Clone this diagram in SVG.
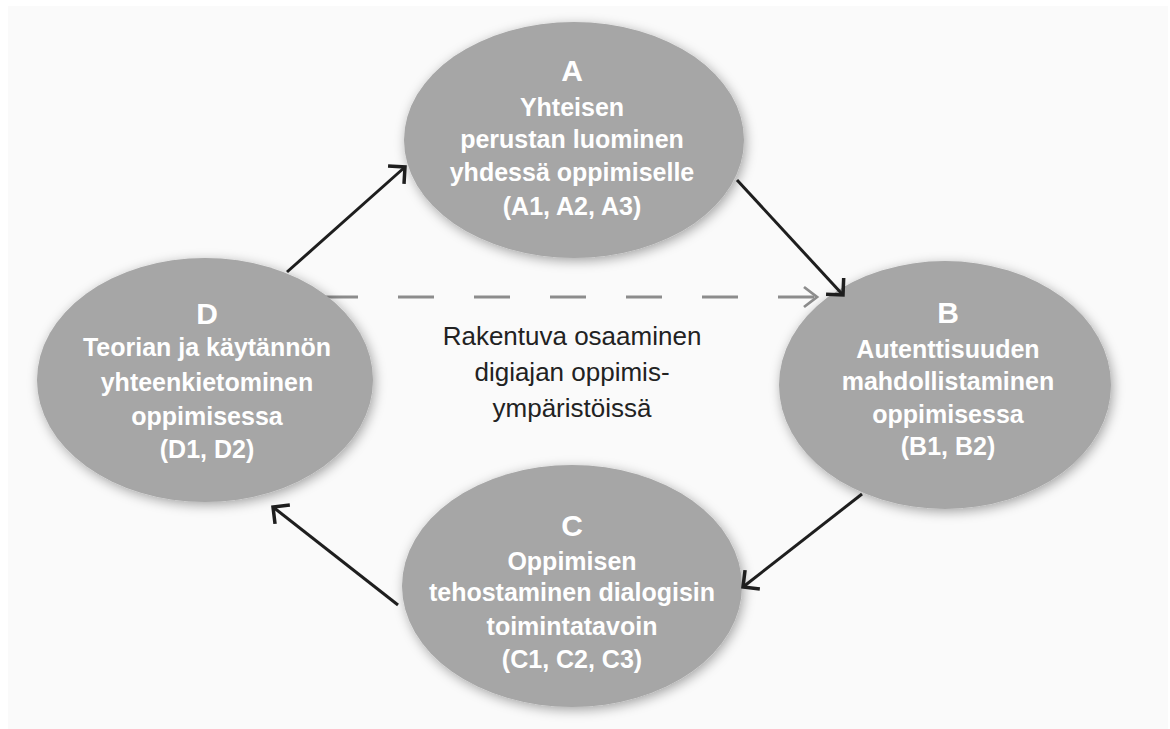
<svg xmlns="http://www.w3.org/2000/svg" width="1170" height="729" viewBox="0 0 1170 729">
  <defs>
    <filter id="shadow" x="-20%" y="-20%" width="140%" height="140%">
      <feDropShadow dx="2" dy="3" stdDeviation="6" flood-color="#000" flood-opacity="0.35"/>
    </filter>
    <marker id="head" markerUnits="userSpaceOnUse" viewBox="-16 -16 20 32" refX="0" refY="0" markerWidth="20" markerHeight="32" orient="auto" overflow="visible">
      <path d="M-12,-12 L0,0 L-12,12" fill="none" stroke="#1e1e1e" stroke-width="3.5" stroke-linejoin="miter"/>
    </marker>
    <marker id="headDash" markerUnits="userSpaceOnUse" viewBox="-16 -16 20 32" refX="0" refY="0" markerWidth="20" markerHeight="32" orient="auto" overflow="visible">
      <path d="M-13,-10 L0,0 L-13,10" fill="none" stroke="#8c8c8c" stroke-width="2.8"/>
    </marker>
  </defs>
  <style>
    .node { fill: #a6a6a6; filter: url(#shadow); }
    .letter { font-family: "Liberation Sans", Arial, sans-serif; font-weight: 900; font-size: 30px; fill: #ffffff; text-anchor: middle; }
    .label { font-family: "Liberation Sans", Arial, sans-serif; font-weight: bold; font-size: 25px; fill: #ffffff; text-anchor: middle; }
    .center { font-family: "Liberation Sans", Arial, sans-serif; font-size: 26px; fill: #222222; text-anchor: middle; }
    .arrow { stroke: #1e1e1e; stroke-width: 3; fill: none; marker-end: url(#head); }
    .dashed { stroke: #8c8c8c; stroke-width: 3; fill: none; stroke-dasharray: 36 40; marker-end: url(#headDash); }
  </style>
  <rect x="0" y="0" width="1170" height="729" fill="#ffffff"/>
  <rect x="8" y="6" width="1160" height="723" fill="#fafafa"/>

  <g id="connectors">
    <line class="dashed" x1="322" y1="297" x2="817" y2="297"/>
  </g>

  <g id="node-A">
    <ellipse class="node" cx="574" cy="140" rx="170" ry="118"/>
    <text class="letter" x="572" y="81">A</text>
    <text class="label" x="572" y="116">Yhteisen</text>
    <text class="label" x="572" y="148">perustan luominen</text>
    <text class="label" x="572" y="181">yhdessä oppimiselle</text>
    <text class="label" x="572" y="215">(A1, A2, A3)</text>
  </g>

  <g id="node-B">
    <ellipse class="node" cx="945" cy="385" rx="166" ry="124"/>
    <text class="letter" x="948" y="323">B</text>
    <text class="label" x="948" y="358">Autenttisuuden</text>
    <text class="label" x="948" y="390">mahdollistaminen</text>
    <text class="label" x="948" y="423">oppimisessa</text>
    <text class="label" x="948" y="455">(B1, B2)</text>
  </g>

  <g id="node-C">
    <ellipse class="node" cx="572" cy="586" rx="170" ry="121"/>
    <text class="letter" x="572" y="536">C</text>
    <text class="label" x="572" y="570">Oppimisen</text>
    <text class="label" x="572" y="601">tehostaminen dialogisin</text>
    <text class="label" x="572" y="635">toimintatavoin</text>
    <text class="label" x="572" y="668">(C1, C2, C3)</text>
  </g>

  <g id="node-D">
    <ellipse class="node" cx="205" cy="380" rx="168" ry="122"/>
    <text class="letter" x="207" y="324">D</text>
    <text class="label" x="207" y="356">Teorian ja käytännön</text>
    <text class="label" x="207" y="391">yhteenkietominen</text>
    <text class="label" x="207" y="425">oppimisessa</text>
    <text class="label" x="207" y="458">(D1, D2)</text>
  </g>

  <g id="center-label">
    <text class="center" x="572" y="345">Rakentuva osaaminen</text>
    <text class="center" x="572" y="381">digiajan oppimis-</text>
    <text class="center" x="572" y="417">ympäristöissä</text>
  </g>

  <g id="connectors-solid">
    <line class="arrow" x1="287" y1="272" x2="405" y2="167"/>
    <line class="arrow" x1="737" y1="180" x2="843" y2="295"/>
    <line class="arrow" x1="862" y1="494" x2="743" y2="587"/>
    <line class="arrow" x1="398" y1="605" x2="273" y2="507"/>
  </g>
</svg>
